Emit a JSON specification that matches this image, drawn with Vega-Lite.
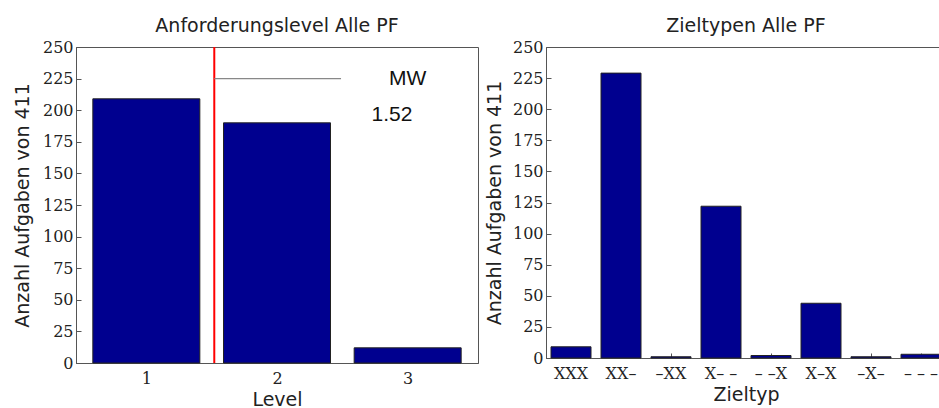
{
  "$schema": "https://vega.github.io/schema/vega-lite/v6.json",
  "padding": {"left": 12, "top": 16, "right": 0, "bottom": 0},
  "spacing": 5,
  "background": "white",
  "config": {
    "view": {"stroke": "#555", "strokeWidth": 1},
    "axis": {
      "grid": false,
      "domainColor": "#555",
      "tickColor": "#555",
      "tickSize": -5,
      "labelFont": "DejaVu Serif",
      "labelFontSize": 16,
      "labelColor": "#222",
      "labelOverlap": false,
      "titleFont": "DejaVu Sans",
      "titleFontSize": 19,
      "titleFontWeight": "normal",
      "titleColor": "#222",
      "labelPadding": 8
    },
    "axisX": {"labelPadding": 12},
    "title": {"font": "DejaVu Sans", "fontSize": 19, "fontWeight": "normal", "color": "#222", "offset": 3}
  },
  "datasets": {
    "level": [
      {"Level": 1, "Anzahl": 209},
      {"Level": 2, "Anzahl": 190},
      {"Level": 3, "Anzahl": 12}
    ],
    "ziel": [
      {"Zieltyp": "XXX", "Anzahl": 9},
      {"Zieltyp": "XX–", "Anzahl": 229},
      {"Zieltyp": "–XX", "Anzahl": 1},
      {"Zieltyp": "X– –", "Anzahl": 122},
      {"Zieltyp": "– –X", "Anzahl": 2},
      {"Zieltyp": "X–X", "Anzahl": 44},
      {"Zieltyp": "–X–", "Anzahl": 1},
      {"Zieltyp": "– – –", "Anzahl": 3}
    ],
    "mw": [
      {"MW": 1.52, "Ende": 2.49, "Linie": 225, "Label": "MW", "Wert": "1.52", "LabelX": 3.0, "WertX": 2.88, "WertY": 196}
    ]
  },
  "hconcat": [
    {
      "title": "Anforderungslevel Alle PF",
      "width": 402,
      "height": 316,
      "layer": [
        {
          "data": {"name": "level"},
          "mark": {"type": "bar", "size": 107, "color": "#00008F", "stroke": "#222", "strokeWidth": 1},
          "encoding": {
            "x": {"field": "Level", "type": "quantitative",
                  "scale": {"domain": [0.5, 3.5], "nice": false, "zero": false},
                  "axis": {"values": [1, 2, 3], "title": "Level", "titlePadding": 4, "format": "d"}},
            "y": {"field": "Anzahl", "type": "quantitative",
                  "scale": {"domain": [0, 250], "nice": false},
                  "axis": {"values": [0, 25, 50, 75, 100, 125, 150, 175, 200, 225, 250], "title": "Anzahl Aufgaben von 411", "titlePadding": 10}}
          }
        },
        {
          "data": {"name": "mw"},
          "mark": {"type": "rule", "color": "#ff0000", "strokeWidth": 2},
          "encoding": {"x": {"field": "MW", "type": "quantitative",
                  "axis": {"values": [1, 2, 3], "title": "Level", "titlePadding": 4, "format": "d"}}}
        },
        {
          "data": {"name": "mw"},
          "mark": {"type": "rule", "color": "#888", "strokeWidth": 1.2},
          "encoding": {
            "x": {"field": "MW", "type": "quantitative",
                  "axis": {"values": [1, 2, 3], "title": "Level", "titlePadding": 4, "format": "d"}},
            "x2": {"field": "Ende"},
            "y": {"field": "Linie", "type": "quantitative",
                  "axis": {"values": [0, 25, 50, 75, 100, 125, 150, 175, 200, 225, 250], "title": "Anzahl Aufgaben von 411", "titlePadding": 10}}
          }
        },
        {
          "data": {"name": "mw"},
          "mark": {"type": "text", "font": "Liberation Sans", "fontSize": 21, "color": "#111", "align": "center", "baseline": "middle"},
          "encoding": {
            "x": {"field": "LabelX", "type": "quantitative",
                  "axis": {"values": [1, 2, 3], "title": "Level", "titlePadding": 4, "format": "d"}},
            "y": {"field": "Linie", "type": "quantitative",
                  "axis": {"values": [0, 25, 50, 75, 100, 125, 150, 175, 200, 225, 250], "title": "Anzahl Aufgaben von 411", "titlePadding": 10}},
            "text": {"field": "Label"}
          }
        },
        {
          "data": {"name": "mw"},
          "mark": {"type": "text", "font": "Liberation Sans", "fontSize": 21, "color": "#111", "align": "center", "baseline": "middle"},
          "encoding": {
            "x": {"field": "WertX", "type": "quantitative",
                  "axis": {"values": [1, 2, 3], "title": "Level", "titlePadding": 4, "format": "d"}},
            "y": {"field": "WertY", "type": "quantitative",
                  "axis": {"values": [0, 25, 50, 75, 100, 125, 150, 175, 200, 225, 250], "title": "Anzahl Aufgaben von 411", "titlePadding": 10}},
            "text": {"field": "Wert"}
          }
        }
      ]
    },
    {
      "title": "Zieltypen Alle PF",
      "width": 400,
      "height": 311,
      "data": {"name": "ziel"},
      "mark": {"type": "bar", "color": "#00008F", "stroke": "#222", "strokeWidth": 1},
      "encoding": {
        "x": {"field": "Zieltyp", "type": "nominal", "sort": null,
              "scale": {"paddingInner": 0.2, "paddingOuter": 0.1},
              "axis": {"labelAngle": 0, "title": "Zieltyp", "titlePadding": 4, "tickSize": -5}},
        "y": {"field": "Anzahl", "type": "quantitative",
              "scale": {"domain": [0, 250], "nice": false},
              "axis": {"values": [0, 25, 50, 75, 100, 125, 150, 175, 200, 225, 250], "title": "Anzahl Aufgaben von 411", "titlePadding": 8}}
      }
    }
  ]
}
